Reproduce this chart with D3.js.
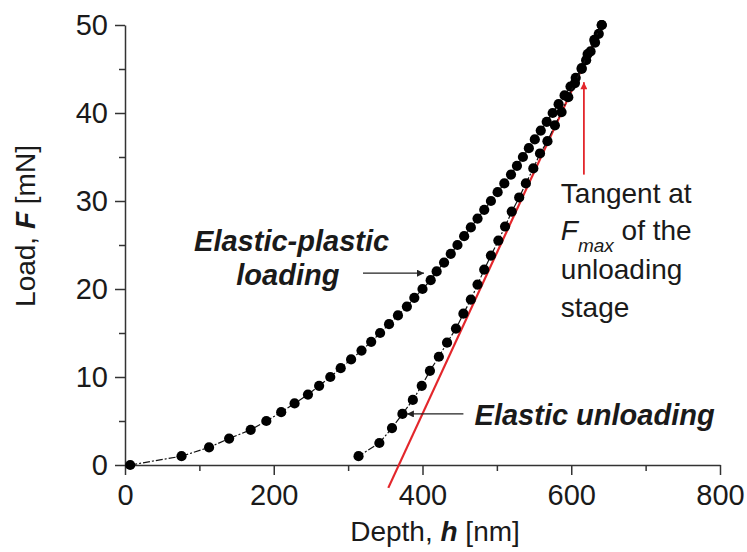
<!DOCTYPE html>
<html>
<head>
<meta charset="utf-8">
<script src="https://cdn.jsdelivr.net/npm/d3@7"></script>
<style>
  body { margin: 0; background: #fff; }
  text { font-family: "Liberation Sans", Arial, sans-serif; fill: #1a1a1a; }
</style>
</head>
<body>
<div id="chart"></div>
<script>
// loading curve: load F [mN] and depth h [nm]
var loadF = d3.range(0, 51, 1);
var loadH = [7, 76, 113, 140, 169, 190, 210, 228, 246, 261,
             276, 290, 304, 318, 331, 343, 355, 367, 379, 389,
             400, 411, 419, 429, 438, 447, 456, 465, 474, 483,
             492, 501, 510, 519, 527, 535, 543, 551, 559, 567,
             575, 583, 591, 599, 606, 614, 620, 626, 632, 637, 641];

// unloading curve
var unloadF = [50, 48.3, 46.7, 45.1, 43.4, 41.8, 40.1, 38.6, 36.8, 35.4,
               33.7, 32.0, 30.4, 28.8, 27.1, 25.5, 23.8, 22.2, 20.5, 18.8,
               17.2, 15.5, 13.9, 12.3, 10.7, 9.0, 7.4, 5.8, 4.2, 2.5, 1.0];
var unloadH = [641, 631, 622, 614, 605, 596, 587, 578, 568, 558,
               549, 539, 530, 520, 511, 502, 492, 483, 474, 465,
               455, 445, 433, 422, 410, 399, 387, 373, 359, 342, 314];

// tangent at Fmax
var tangentH = [354, 643];
var tangentF = [-2.6, 50.3];

// axis ticks
var xMajor = [0, 200, 400, 600, 800];
var xMinor = [100, 300, 500, 700];
var yMajor = [0, 10, 20, 30, 40, 50];
var yMinor = [5, 15, 25, 35, 45];

var margin = {top: 25, right: 27, bottom: 87, left: 125},
    width = 747 - margin.left - margin.right,
    height = 552 - margin.top - margin.bottom;

var x = d3.scaleLinear().domain([0, 800]).range([0, width]);
var y = d3.scaleLinear().domain([0, 50]).range([height, 0]);

var svg = d3.select("#chart").append("svg")
    .attr("width", 747)
    .attr("height", 552)
  .append("g")
    .attr("transform", "translate(" + margin.left + "," + margin.top + ")");

var defs = svg.append("defs");
function marker(id, color) {
  defs.append("marker")
      .attr("id", id)
      .attr("viewBox", "0 0 10 10")
      .attr("refX", 10).attr("refY", 5)
      .attr("markerWidth", 10).attr("markerHeight", 7)
      .attr("markerUnits", "userSpaceOnUse")
      .attr("orient", "auto")
    .append("path")
      .attr("d", "M0,0 L10,5 L0,10 z")
      .attr("fill", color);
}
marker("arrBlack", "#222");
marker("arrRed", "#e3262b");

// axes
function styleAxis(g) {
  g.selectAll("path, line").attr("stroke", "#333").attr("stroke-width", 1.5);
  g.selectAll("text").style("font-size", "29px").attr("fill", "#1a1a1a");
}

svg.append("g")
    .attr("transform", "translate(0," + height + ")")
    .call(d3.axisBottom(x).tickValues(xMinor).tickSize(6).tickFormat(""))
    .call(styleAxis)
    .select(".domain").remove();
svg.append("g")
    .attr("transform", "translate(0," + height + ")")
    .call(d3.axisBottom(x).tickValues(xMajor).tickSize(10).tickSizeOuter(0).tickPadding(9))
    .call(styleAxis);

svg.append("g")
    .call(d3.axisLeft(y).tickValues(yMinor).tickSize(6).tickFormat(""))
    .call(styleAxis)
    .select(".domain").remove();
svg.append("g")
    .call(d3.axisLeft(y).tickValues(yMajor).tickSize(10).tickSizeOuter(0).tickPadding(7))
    .call(styleAxis);

// axis titles
var yTitle = svg.append("text")
    .attr("transform", "translate(" + (35 - margin.left) + "," + (226 - margin.top) + ") rotate(-90)")
    .attr("text-anchor", "middle")
    .style("font-size", "28px");
yTitle.append("tspan").text("Load, ");
yTitle.append("tspan").style("font-weight", "bold").style("font-style", "italic").text("F");
yTitle.append("tspan").text(" [mN]");

var xTitle = svg.append("text")
    .attr("x", 435 - margin.left)
    .attr("y", 541 - margin.top)
    .attr("text-anchor", "middle")
    .style("font-size", "28px");
xTitle.append("tspan").text("Depth, ");
xTitle.append("tspan").style("font-weight", "bold").style("font-style", "italic").text("h");
xTitle.append("tspan").text(" [nm]");

// tangent line
svg.append("line")
    .attr("x1", x(tangentH[0])).attr("y1", y(tangentF[0]))
    .attr("x2", x(tangentH[1])).attr("y2", y(tangentF[1]))
    .attr("stroke", "#e3262b")
    .attr("stroke-width", 2.2);

// curves
var line = d3.line()
    .x(function(d) { return x(d.h); })
    .y(function(d) { return y(d.f); });

var loading = loadF.map(function(f, i) { return {f: f, h: loadH[i]}; });
var unloading = unloadF.map(function(f, i) { return {f: f, h: unloadH[i]}; });

[loading, unloading].forEach(function(data) {
  svg.append("path")
      .attr("d", line(data))
      .attr("fill", "none")
      .attr("stroke", "#111")
      .attr("stroke-width", 1.2)
      .attr("stroke-dasharray", "7,2,2,2");
  svg.selectAll(null)
      .data(data)
    .enter().append("circle")
      .attr("r", 5.1)
      .attr("cx", function(d) { return x(d.h); })
      .attr("cy", function(d) { return y(d.f); })
      .attr("fill", "#000");
});

// annotations
var bi = function(sel) {
  return sel.style("font-weight", "bold").style("font-style", "italic").style("font-size", "29px");
};
bi(svg.append("text").attr("x", x(224)).attr("y", y(24.3)).attr("text-anchor", "middle").text("Elastic-plastic"));
bi(svg.append("text").attr("x", x(219)).attr("y", y(20.45)).attr("text-anchor", "middle").text("loading"));
bi(svg.append("text").attr("x", x(470)).attr("y", y(4.55)).text("Elastic unloading"));

svg.append("line")
    .attr("x1", x(320)).attr("y1", y(21.8))
    .attr("x2", x(402)).attr("y2", y(21.8))
    .attr("stroke", "#222").attr("stroke-width", 1.3)
    .attr("marker-end", "url(#arrBlack)");
svg.append("line")
    .attr("x1", x(455)).attr("y1", y(5.8))
    .attr("x2", x(379)).attr("y2", y(5.8))
    .attr("stroke", "#222").attr("stroke-width", 1.3)
    .attr("marker-end", "url(#arrBlack)");

svg.append("line")
    .attr("x1", x(617)).attr("y1", y(33))
    .attr("x2", x(617)).attr("y2", y(43.5))
    .attr("stroke", "#e3262b").attr("stroke-width", 1.8)
    .attr("marker-end", "url(#arrRed)");

var tx = x(586);
svg.append("text").attr("x", tx).attr("y", y(29.8)).style("font-size", "28px").text("Tangent at");
var fm = svg.append("text").attr("x", tx).attr("y", y(25.6)).style("font-size", "28px");
fm.append("tspan").style("font-style", "italic").text("F");
fm.append("tspan").style("font-style", "italic").style("font-size", "19px").attr("dy", 12).text("max");
fm.append("tspan").attr("dy", -12).text(" of the");
svg.append("text").attr("x", tx).attr("y", y(21.1)).style("font-size", "28px").text("unloading");
svg.append("text").attr("x", tx).attr("y", y(16.8)).style("font-size", "28px").text("stage");
</script>
</body>
</html>
